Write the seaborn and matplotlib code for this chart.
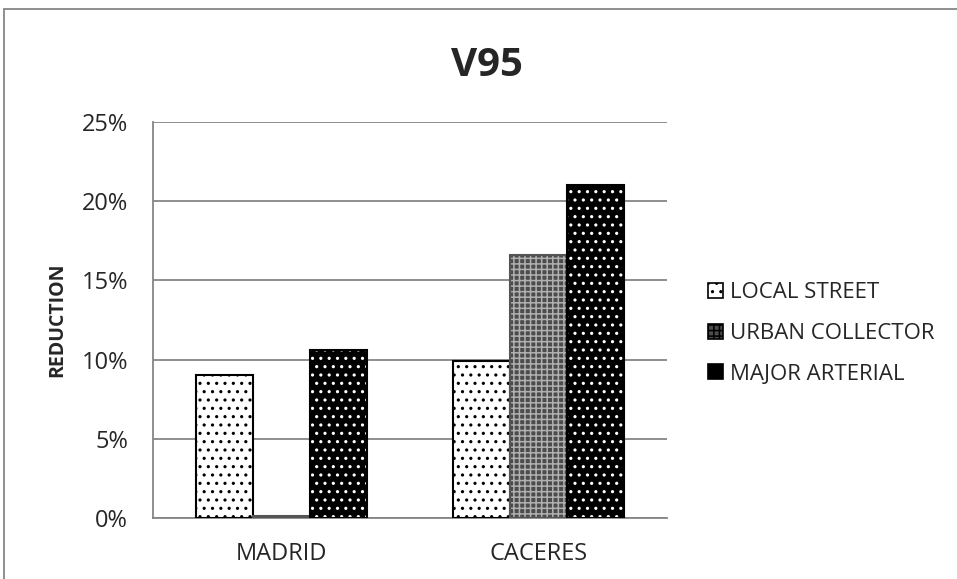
import matplotlib
matplotlib.use("Agg")
import matplotlib.pyplot as plt
import seaborn as sns
import pandas as pd
from matplotlib.patches import Patch, Rectangle
from matplotlib.ticker import PercentFormatter

cities = ["MADRID", "CACERES"]
road_types = ["LOCAL STREET", "URBAN COLLECTOR", "MAJOR ARTERIAL"]
local_street = [9.0, 9.9]
urban_collector = [0.1, 16.6]
major_arterial = [10.6, 21.0]

df = pd.DataFrame({
    "city": cities * 3,
    "road": [r for r in road_types for _ in cities],
    "reduction": local_street + urban_collector + major_arterial,
})

sns.set_style("white")
plt.rcParams["font.family"] = ["Open Sans", "DejaVu Sans"]
plt.rcParams["hatch.linewidth"] = 1.1

# face, hatch colour, hatch pattern, outline
styles = {
    "LOCAL STREET": ("white", "black", "..", "black"),
    "URBAN COLLECTOR": ("#4c4c4c", "#b0b0b0", "+++", "#555555"),
    "MAJOR ARTERIAL": ("black", "white", "..", "black"),
}

fig = plt.figure(figsize=(9.57, 5.79), dpi=100)
ax = fig.add_axes([0.160, 0.1054, 0.537, 0.684])

sns.barplot(data=df, x="city", y="reduction", hue="road", order=cities,
            hue_order=road_types, width=0.666, ax=ax, legend=False,
            palette=["white"] * 3)

for road, cont in zip(road_types, ax.containers):
    face, hcol, hatch, edge = styles[road]
    for bar in cont:
        bar.set_facecolor(face)
        bar.set_edgecolor(hcol)
        bar.set_hatch(hatch)
        bar.set_linewidth(0)
        ax.add_patch(Rectangle(bar.get_xy(), bar.get_width(), bar.get_height(),
                               fill=False, edgecolor=edge, linewidth=1.5, zorder=3))

ax.set_ylim(0, 25)
ax.set_yticks([0, 5, 10, 15, 20, 25])
ax.yaxis.set_major_formatter(PercentFormatter(decimals=0))
ax.set_xlim(-0.5, 1.5)
ax.grid(axis="y", color="#868686", linewidth=1.3)
ax.set_axisbelow(True)
for side in ["top", "right"]:
    ax.spines[side].set_visible(False)
for side in ["left", "bottom"]:
    ax.spines[side].set_color("#868686")
    ax.spines[side].set_linewidth(1.3)
ax.tick_params(axis="y", length=8, width=1.3, color="#868686", labelsize=17, pad=10)
ax.tick_params(axis="x", length=0, labelsize=17, pad=17)
ax.set_xlabel("")
ax.set_ylabel("REDUCTION", fontsize=14, fontweight="bold", labelpad=10)

fig.text(0.509, 0.869, "V95", fontsize=29, fontweight="bold", ha="center", va="baseline")

handles = []
for road in road_types:
    face, hcol, hatch, edge = styles[road]
    h = Patch(facecolor=face, edgecolor=hcol, hatch=hatch, linewidth=0)
    handles.append(h)
leg = fig.legend(handles, road_types, loc="center left", bbox_to_anchor=(0.740, 0.424),
                 frameon=False, fontsize=16, handlelength=0.65, handleheight=0.65,
                 handletextpad=0.35, labelspacing=0.88, borderpad=0, borderaxespad=0)
for p in leg.get_patches():
    p.set_edgecolor("black")
    p.set_linewidth(1.2)

fig.add_artist(Rectangle((4 / 957, -0.1), 1.1, (579 - 9) / 579 + 0.1,
                         transform=fig.transFigure, fill=False,
                         edgecolor="#868686", linewidth=1.3))

fig.savefig("out.png", dpi=100)
